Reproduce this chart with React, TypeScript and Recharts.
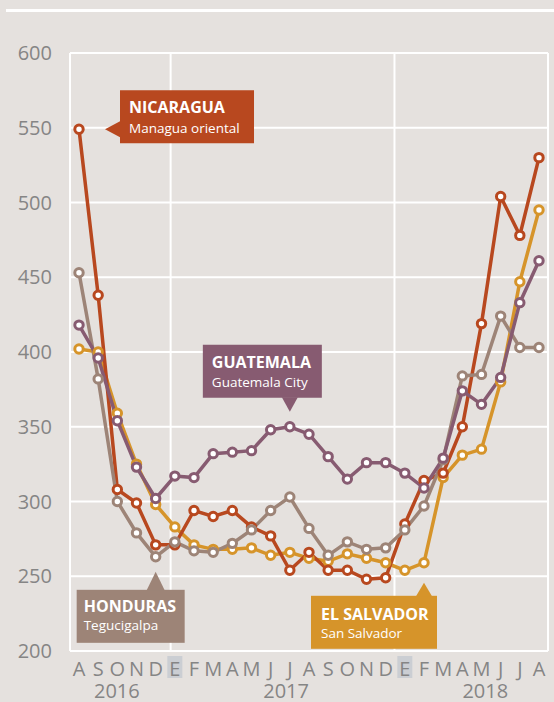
import React from "react";
import { LineChart, Line, XAxis, YAxis, CartesianGrid, ReferenceLine, ReferenceDot } from "recharts";

// Aug 2016 .. Aug 2018, Spanish month initials (E = enero)
const months = ["A", "S", "O", "N", "D", "E", "F", "M", "A", "M", "J", "J", "A", "S", "O", "N", "D", "E", "F", "M", "A", "M", "J", "J", "A"];
const firstYear = 2016;
const firstMonth = 8;
const yTicks = [200, 250, 300, 350, 400, 450, 500, 550, 600];

const nicaragua = [549, 438, 308, 299, 271, 271, 294, 290, 294, 283, 277, 254, 266, 254, 254, 248, 249, 285, 314, 319, 350, 419, 504, 478, 530];
const honduras = [453, 382, 300, 279, 263, 273, 267, 266, 272, 281, 294, 303, 282, 264, 273, 268, 269, 281, 297, 328, 384, 385, 424, 403, 403];
const guatemala = [418, 396, 354, 323, 302, 317, 316, 332, 333, 334, 348, 350, 345, 330, 315, 326, 326, 319, 309, 329, 374, 365, 383, 433, 461];
const elSalvador = [402, 400, 359, 325, 298, 283, 271, 268, 268, 269, 264, 266, 262, 260, 265, 262, 259, 254, 259, 316, 331, 335, 380, 447, 495];

const COLORS = {
  nicaragua: "#b8481f",
  honduras: "#9d8477",
  guatemala: "#875b71",
  elSalvador: "#d6942a",
};

const BG = "#e5e1de";
const TEXT = "#858585";
const FONT = "'Open Sans', sans-serif";

const data = months.map((m, i) => ({
  i,
  nicaragua: nicaragua[i],
  honduras: honduras[i],
  guatemala: guatemala[i],
  elSalvador: elSalvador[i],
}));

const yearOf = months.map((_, i) => firstYear + Math.floor((i + firstMonth - 1) / 12));
const years = Array.from(new Set(yearOf));
const yearCenters = years.map((y) => {
  const idx = yearOf.map((v, i) => (v === y ? i : -1)).filter((i) => i >= 0);
  return (idx[0] + idx[idx.length - 1]) / 2;
});

const domain: [number, number] = [-0.47, months.length - 1 + 0.47];
const yearBreaks = [4.78, 16.46];

function MonthTick({ x, y, payload }: any) {
  const label = months[payload.value];
  return (
    <g>
      {label === "E" && <rect x={x - 7.5} y={y - 3} width={15} height={22} fill="#cbced3" />}
      <text x={x} y={y + 9} textAnchor="middle" dominantBaseline="central" fontSize={20} fontFamily={FONT} fill={TEXT}>
        {label}
      </text>
    </g>
  );
}

function YearTick({ x, y, payload }: any) {
  const idx = yearCenters.indexOf(payload.value);
  return (
    <text x={x + 7} y={y + 3} textAnchor="middle" dominantBaseline="central" fontSize={20} fontFamily={FONT} fill={TEXT}>
      {years[idx]}
    </text>
  );
}

type CalloutProps = {
  cx?: number;
  cy?: number;
  color: string;
  title: string;
  sub: string;
  box: [number, number, number, number]; // dx, dy, w, h relative to point
  tri: [number, number][];
  text: [number, number, number]; // dx, title baseline, sub baseline
};

function Callout({ cx = 0, cy = 0, color, title, sub, box, tri, text }: CalloutProps) {
  return (
    <g>
      <rect x={cx + box[0]} y={cy + box[1]} width={box[2]} height={box[3]} fill={color} />
      <polygon points={tri.map(([dx, dy]) => `${cx + dx},${cy + dy}`).join(" ")} fill={color} />
      <text x={cx + text[0]} y={cy + text[1]} fontFamily={FONT} fontWeight={700} fontSize={16} fill="#fff">
        {title}
      </text>
      <text x={cx + text[0]} y={cy + text[2]} fontFamily={FONT} fontSize={13.5} fill="#fff">
        {sub}
      </text>
    </g>
  );
}

const dotStyle = (c: string) => ({ r: 4.2, fill: "#fff", stroke: c, strokeWidth: 3 });

export default function App() {
  return (
    <div style={{ position: "absolute", left: 0, top: 0, width: 554, height: 702, background: BG, overflow: "hidden" }}>
      <div style={{ position: "absolute", left: 6, top: 8.5, width: 548, height: 3, background: "#fff" }} />
      <LineChart width={554} height={702} data={data} margin={{ top: 53, right: 6, bottom: 0, left: 0 }}>
        <CartesianGrid vertical={false} stroke="#fff" strokeWidth={2} />
        <XAxis
          dataKey="i"
          type="number"
          domain={domain}
          ticks={months.map((_, i) => i)}
          interval={0}
          height={28}
          axisLine={{ stroke: "#fff", strokeWidth: 2 }}
          tickLine={false}
          tick={<MonthTick />}
        />
        <XAxis
          xAxisId="yr"
          type="number"
          domain={domain}
          ticks={yearCenters}
          interval={0}
          height={23}
          axisLine={false}
          tickLine={false}
          tick={<YearTick />}
        />
        <YAxis
          domain={[200, 600]}
          ticks={yTicks}
          width={70}
          axisLine={{ stroke: "#fff", strokeWidth: 2 }}
          tickLine={false}
          tickMargin={12}
          tick={{ fill: TEXT, fontSize: 20, fontFamily: FONT }}
        />
        {yearBreaks.map((b) => (
          <ReferenceLine key={b} x={b} stroke="#fff" strokeWidth={2} />
        ))}
        <ReferenceLine x={domain[1]} stroke="#fff" strokeWidth={2} />

        <Line dataKey="elSalvador" stroke={COLORS.elSalvador} strokeWidth={3.5} dot={dotStyle(COLORS.elSalvador)} isAnimationActive={false} />
        <Line dataKey="nicaragua" stroke={COLORS.nicaragua} strokeWidth={3.5} dot={dotStyle(COLORS.nicaragua)} isAnimationActive={false} />
        <Line dataKey="honduras" stroke={COLORS.honduras} strokeWidth={3.5} dot={dotStyle(COLORS.honduras)} isAnimationActive={false} />
        <Line dataKey="guatemala" stroke={COLORS.guatemala} strokeWidth={3.5} dot={dotStyle(COLORS.guatemala)} isAnimationActive={false} />

        <ReferenceDot
          x={0}
          y={nicaragua[0]}
          r={0}
          shape={(p: any) => (
            <Callout
              cx={p.cx}
              cy={p.cy}
              color={COLORS.nicaragua}
              title="NICARAGUA"
              sub="Managua oriental"
              box={[41, -39, 134, 53]}
              tri={[[26, 0], [41, -8], [41, 8]]}
              text={[50, -16, 4]}
            />
          )}
        />
        <ReferenceDot
          x={11}
          y={guatemala[11]}
          r={0}
          shape={(p: any) => (
            <Callout
              cx={p.cx}
              cy={p.cy}
              color={COLORS.guatemala}
              title="GUATEMALA"
              sub="Guatemala City"
              box={[-87, -82, 119, 53]}
              tri={[[0, -15], [-8, -29.5], [8, -29.5]]}
              text={[-78, -59, -40]}
            />
          )}
        />
        <ReferenceDot
          x={4}
          y={honduras[4]}
          r={0}
          shape={(p: any) => (
            <Callout
              cx={p.cx}
              cy={p.cy}
              color={COLORS.honduras}
              title="HONDURAS"
              sub="Tegucigalpa"
              box={[-79, 33, 108, 53]}
              tri={[[0, 15], [-9, 33.5], [9, 33.5]]}
              text={[-72, 55, 73]}
            />
          )}
        />
        <ReferenceDot
          x={18}
          y={elSalvador[18]}
          r={0}
          shape={(p: any) => (
            <Callout
              cx={p.cx}
              cy={p.cy}
              color={COLORS.elSalvador}
              title="EL SALVADOR"
              sub="San Salvador"
              box={[-113, 33, 126, 53]}
              tri={[[0, 20], [-8, 33.5], [8, 33.5]]}
              text={[-103, 57, 75]}
            />
          )}
        />
      </LineChart>
    </div>
  );
}
